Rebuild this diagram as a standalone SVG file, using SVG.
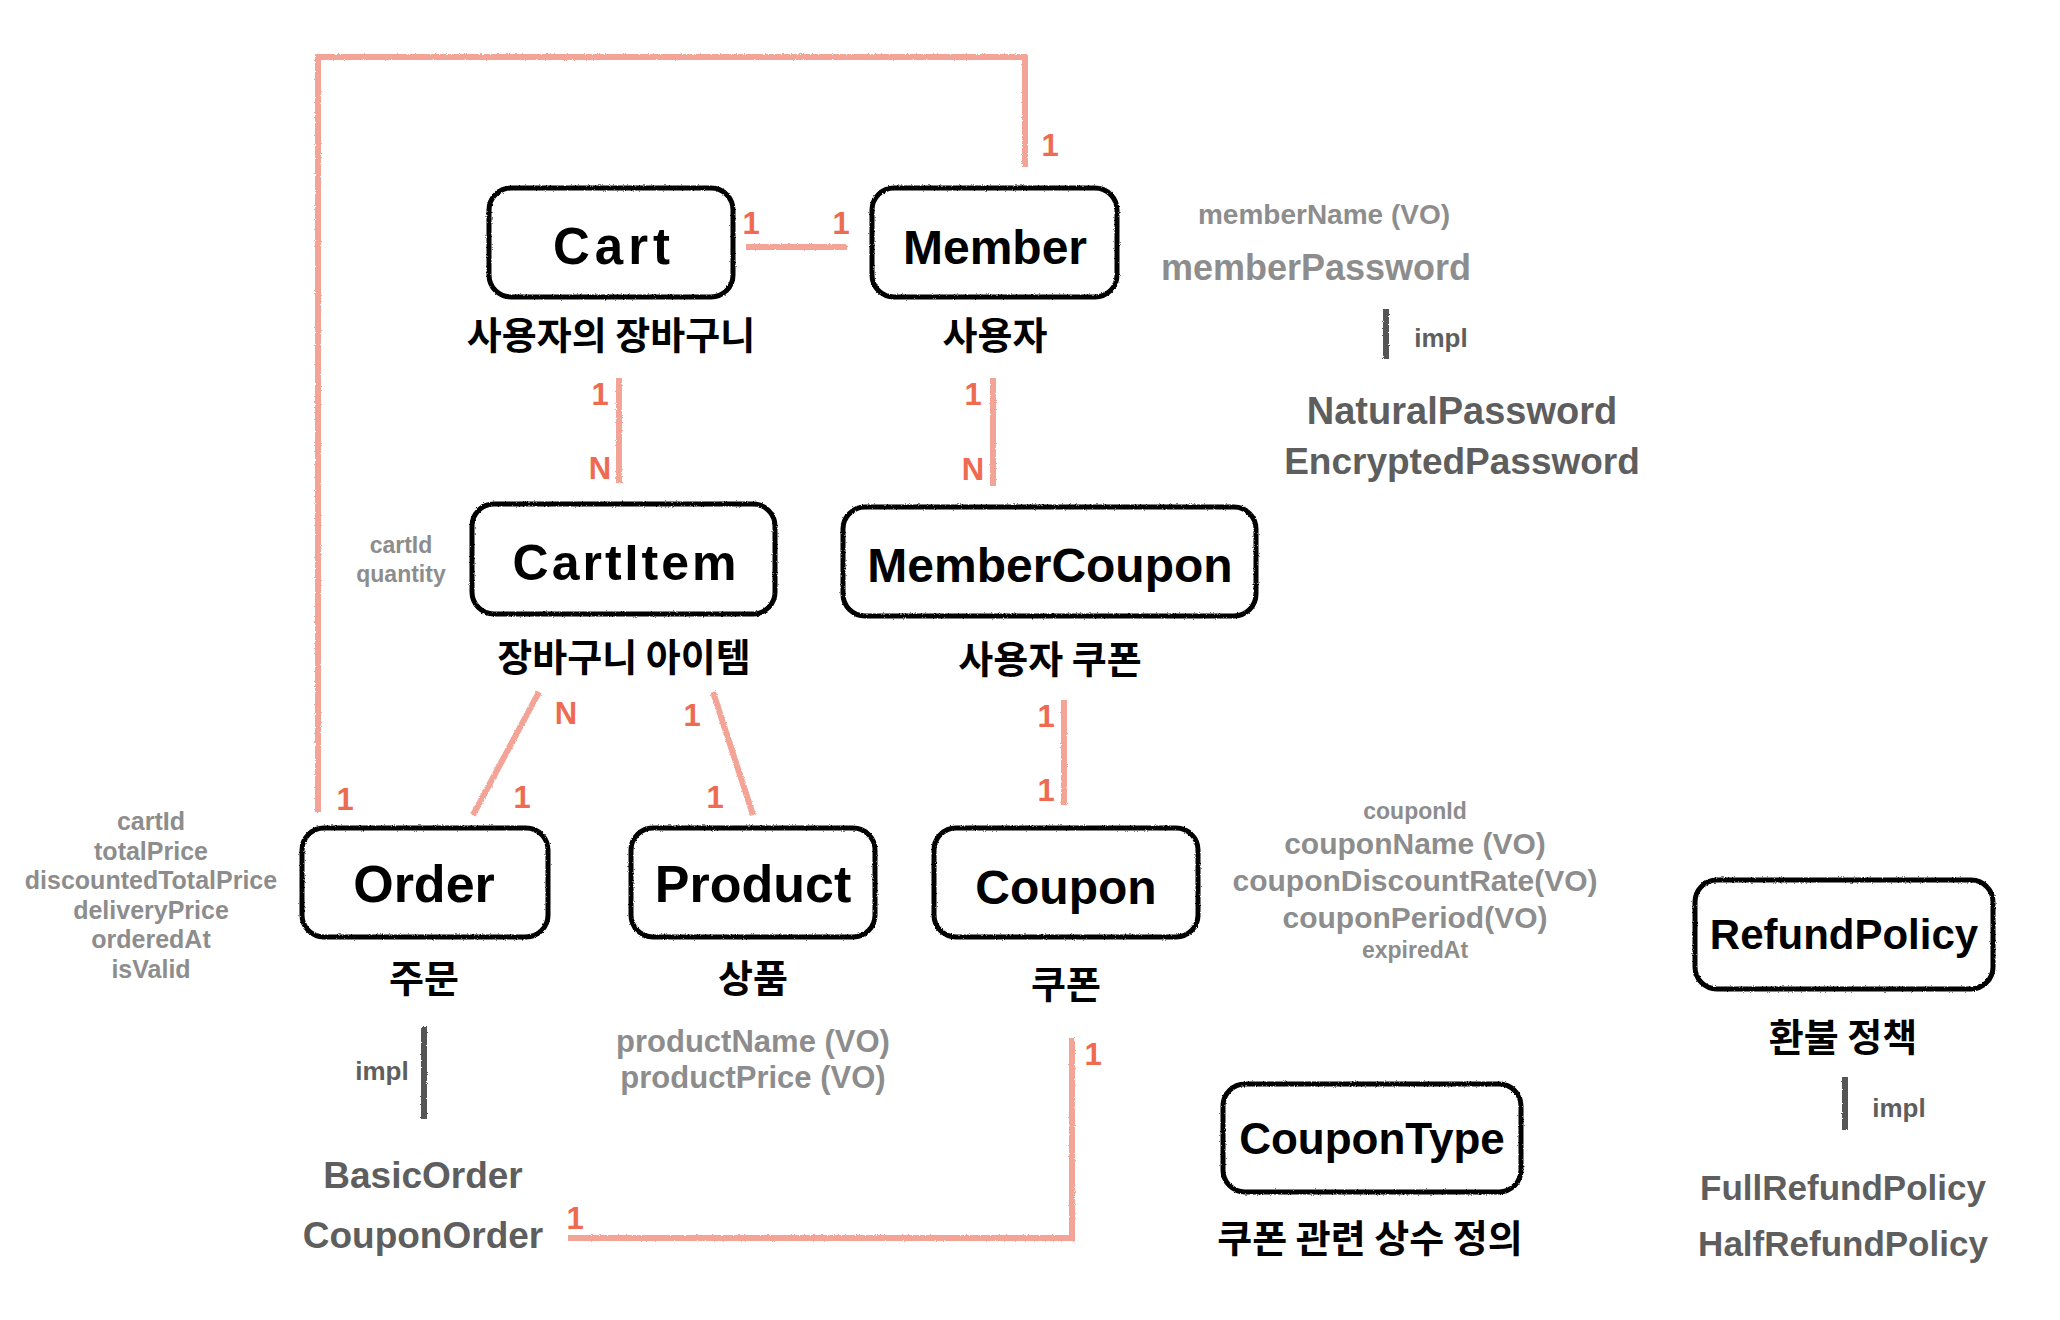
<svg xmlns="http://www.w3.org/2000/svg" width="2060" height="1320" viewBox="0 0 2060 1320">
<defs>
<filter id="rough" filterUnits="userSpaceOnUse" x="0" y="0" width="2060" height="1320">
<feTurbulence type="fractalNoise" baseFrequency="0.9" numOctaves="2" seed="3" result="n"/>
<feDisplacementMap in="SourceGraphic" in2="n" scale="2.5" xChannelSelector="R" yChannelSelector="G"/>
</filter>
</defs>
<style>
text{font-family:"Liberation Sans","Noto Sans CJK KR",sans-serif;font-weight:bold;text-anchor:middle}
.box{fill:#ffffff;stroke:#000000;stroke-width:5}
.title{fill:#000000}
.kr{font-size:38px;fill:#000000;font-family:"Noto Sans CJK KR",sans-serif}
.conn{fill:none;stroke:#f4a497;stroke-width:6;stroke-linejoin:miter}
.card{font-size:31px;fill:#ee6a51}
.attr{fill:#8d8d8d}
.impl{fill:#5e5e5e}
.bar{fill:#555555}
</style>
<rect width="2060" height="1320" fill="#ffffff"/>

<g id="connectors" filter="url(#rough)">
<path class="conn" d="M 318 812 L 318 57 L 1025 57 L 1025 167"/>
<path class="conn" d="M 746 247 L 847 247"/>
<path class="conn" d="M 619 378 L 619 483"/>
<path class="conn" d="M 993 378 L 993 486"/>
<path class="conn" d="M 539 692 L 473 815"/>
<path class="conn" d="M 713 692 L 753 815"/>
<path class="conn" d="M 1064 700 L 1064 805"/>
<path class="conn" d="M 1072 1038 L 1072 1238 L 568 1238"/>
</g>
<g id="cardinalities">
<text class="card" x="1050" y="156">1</text>
<text class="card" x="751" y="234">1</text>
<text class="card" x="841" y="234">1</text>
<text class="card" x="600" y="405">1</text>
<text class="card" x="600" y="479">N</text>
<text class="card" x="973" y="405">1</text>
<text class="card" x="973" y="480">N</text>
<text class="card" x="566" y="724">N</text>
<text class="card" x="692" y="726">1</text>
<text class="card" x="1046" y="727">1</text>
<text class="card" x="345" y="810">1</text>
<text class="card" x="522" y="808">1</text>
<text class="card" x="715" y="808">1</text>
<text class="card" x="1046" y="801">1</text>
<text class="card" x="1093" y="1065">1</text>
<text class="card" x="575" y="1229">1</text>
</g>

<g id="cart">
<rect class="box" x="489" y="188" width="244" height="109" rx="22" filter="url(#rough)"/>
<text class="title" x="614" y="264" style="font-size:51px" letter-spacing="5">Cart</text>
<text class="kr" x="611" y="349">사용자의 장바구니</text>
</g>

<g id="member">
<rect class="box" x="872" y="188" width="245" height="109" rx="22" filter="url(#rough)"/>
<text class="title" x="995" y="264" style="font-size:48px">Member</text>
<text class="kr" x="995" y="349">사용자</text>
<text class="attr" x="1324" y="224" font-size="28">memberName (VO)</text>
<text class="attr" x="1316" y="280" font-size="36">memberPassword</text>
<rect class="bar" x="1383" y="309" width="6" height="50" filter="url(#rough)"/>
<text class="impl" x="1441" y="347" font-size="26">impl</text>
<text class="impl" x="1462" y="424" font-size="38">NaturalPassword</text>
<text class="impl" x="1462" y="474" font-size="37">EncryptedPassword</text>
</g>

<g id="cartitem">
<rect class="box" x="472" y="504" width="303" height="110" rx="22" filter="url(#rough)"/>
<text class="title" x="626" y="580" style="font-size:50px" letter-spacing="3">CartItem</text>
<text class="kr" x="624" y="671">장바구니 아이템</text>
<text class="attr" x="401" y="553" font-size="23">cartId</text>
<text class="attr" x="401" y="582" font-size="23">quantity</text>
</g>

<g id="membercoupon">
<rect class="box" x="843" y="507" width="413" height="109" rx="22" filter="url(#rough)"/>
<text class="title" x="1050" y="582" style="font-size:48px">MemberCoupon</text>
<text class="kr" x="1050" y="673">사용자 쿠폰</text>
</g>

<g id="order">
<rect class="box" x="302" y="828" width="246" height="109" rx="22" filter="url(#rough)"/>
<text class="title" x="424" y="902" style="font-size:52px">Order</text>
<text class="kr" x="424" y="992">주문</text>
<text class="attr" x="151" y="830" font-size="25">cartId</text>
<text class="attr" x="151" y="860" font-size="25">totalPrice</text>
<text class="attr" x="151" y="889" font-size="25">discountedTotalPrice</text>
<text class="attr" x="151" y="919" font-size="25">deliveryPrice</text>
<text class="attr" x="151" y="948" font-size="25">orderedAt</text>
<text class="attr" x="151" y="978" font-size="25">isValid</text>
<rect class="bar" x="421" y="1027" width="6" height="92" filter="url(#rough)"/>
<text class="impl" x="382" y="1080" font-size="26">impl</text>
<text class="impl" x="423" y="1188" font-size="37">BasicOrder</text>
<text class="impl" x="423" y="1248" font-size="37">CouponOrder</text>
</g>

<g id="product">
<rect class="box" x="631" y="828" width="244" height="109" rx="22" filter="url(#rough)"/>
<text class="title" x="753" y="902" style="font-size:52px">Product</text>
<text class="kr" x="753" y="992">상품</text>
<text class="attr" x="753" y="1052" font-size="31">productName (VO)</text>
<text class="attr" x="753" y="1088" font-size="31">productPrice (VO)</text>
</g>

<g id="coupon">
<rect class="box" x="934" y="828" width="264" height="109" rx="22" filter="url(#rough)"/>
<text class="title" x="1066" y="904" style="font-size:48px">Coupon</text>
<text class="kr" x="1066" y="998">쿠폰</text>
<text class="attr" x="1415" y="819" font-size="23">couponId</text>
<text class="attr" x="1415" y="854" font-size="30">couponName (VO)</text>
<text class="attr" x="1415" y="891" font-size="30">couponDiscountRate(VO)</text>
<text class="attr" x="1415" y="928" font-size="30">couponPeriod(VO)</text>
<text class="attr" x="1415" y="958" font-size="23">expiredAt</text>
</g>

<g id="coupontype">
<rect class="box" x="1223" y="1084" width="298" height="108" rx="22" filter="url(#rough)"/>
<text class="title" x="1372" y="1154" style="font-size:44px">CouponType</text>
<text class="kr" x="1370" y="1252">쿠폰 관련 상수 정의</text>
</g>

<g id="refundpolicy">
<rect class="box" x="1695" y="880" width="298" height="109" rx="22" filter="url(#rough)"/>
<text class="title" x="1844" y="949" style="font-size:42px">RefundPolicy</text>
<text class="kr" x="1843" y="1051">환불 정책</text>
<rect class="bar" x="1842" y="1077" width="6" height="53" filter="url(#rough)"/>
<text class="impl" x="1899" y="1117" font-size="26">impl</text>
<text class="impl" x="1843" y="1200" font-size="35">FullRefundPolicy</text>
<text class="impl" x="1843" y="1256" font-size="35">HalfRefundPolicy</text>
</g>
</svg>
